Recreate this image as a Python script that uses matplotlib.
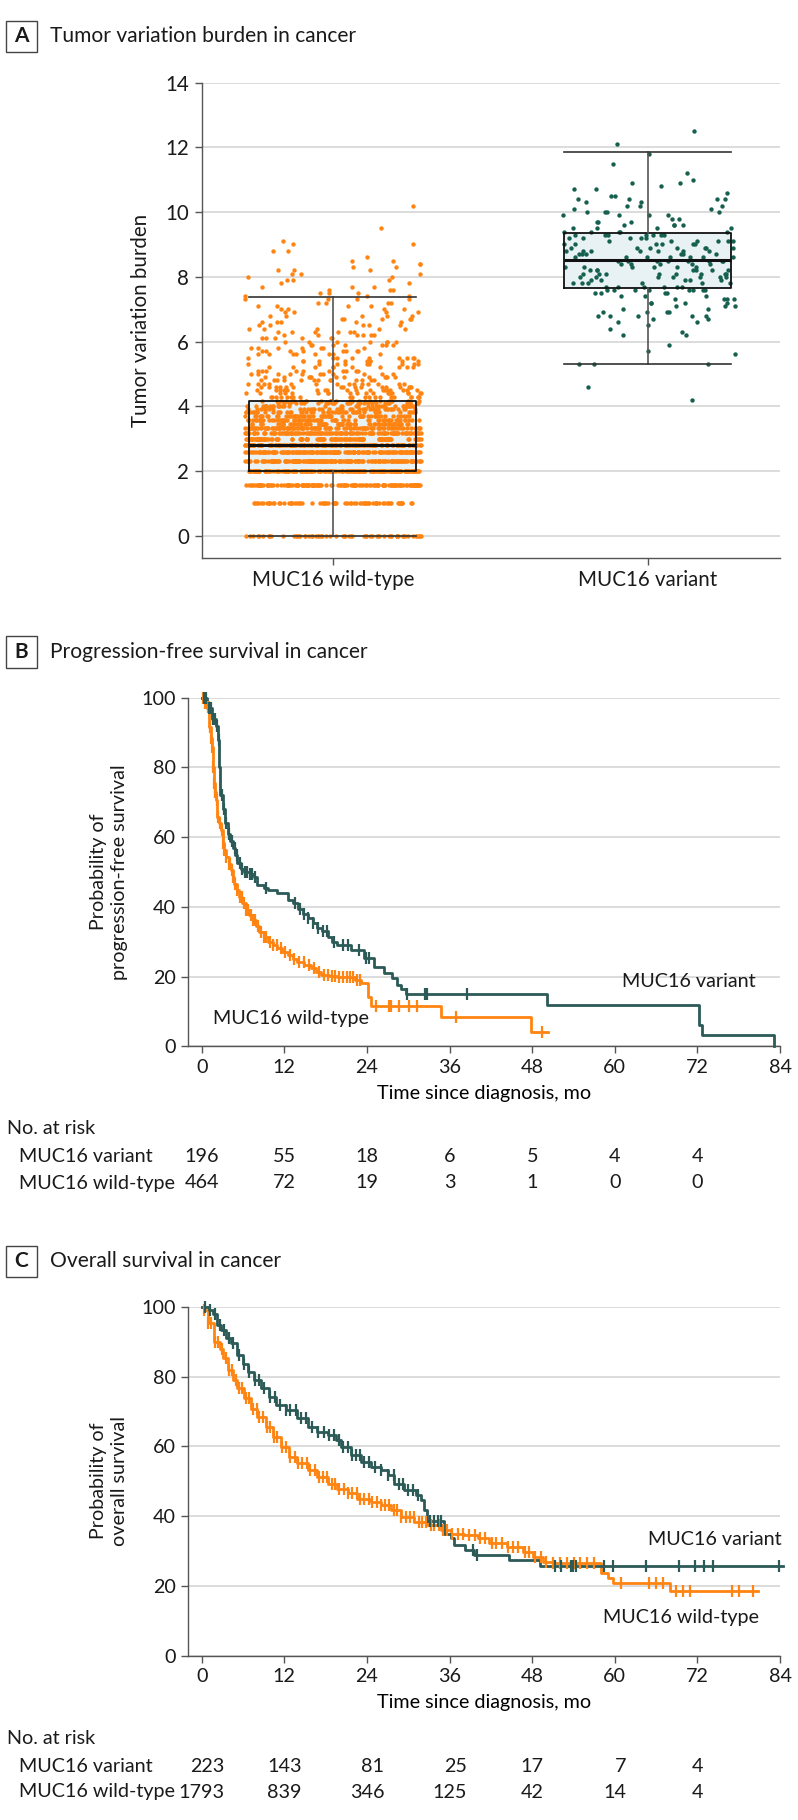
import numpy as np
import matplotlib
matplotlib.use("Agg")
import matplotlib.pyplot as plt
from matplotlib.patches import Rectangle
from matplotlib import transforms

plt.rcParams['font.family'] = ['Lato', 'DejaVu Sans']
plt.rcParams['font.size'] = 14.5
plt.rcParams['text.color'] = '#1a1a1a'
plt.rcParams['xtick.color'] = '#555555'
plt.rcParams['ytick.color'] = '#555555'
plt.rcParams['xtick.labelcolor'] = '#1a1a1a'
plt.rcParams['ytick.labelcolor'] = '#1a1a1a'

ORANGE = '#ff8412'
TEAL_DOT = '#15604f'
TEAL = '#2b5a57'

# ---------------- panel A data ----------------
groups = ['MUC16 wild-type', 'MUC16 variant']
box_q1 = [2.0, 7.66]
box_med = [2.80, 8.52]
box_q3 = [4.17, 9.37]
box_lo = [0.0, 5.30]
box_hi = [7.38, 11.85]

wt_levels = [0, 1.0, 1.58, 2.0, 2.32, 2.58, 2.81, 3.0, 3.17, 3.32, 3.46, 3.58, 3.70,
             3.81, 3.91, 4.0, 4.09, 4.17, 4.3, 4.4, 4.5, 4.6, 4.7, 4.8, 4.9, 5.0,
             5.1, 5.2, 5.3, 5.4, 5.5, 5.6, 5.7, 5.8, 5.9, 6.0, 6.1, 6.2, 6.3, 6.4,
             6.5, 6.6, 6.7, 6.8, 6.9, 7.0, 7.1, 7.2, 7.3, 7.4, 7.5, 7.6, 7.7, 7.8,
             7.9, 8.0, 8.1, 8.2, 8.3, 8.4, 8.5, 8.6, 8.8, 9.0, 9.1, 9.5, 10.2]
wt_counts = [60, 70, 130, 160, 150, 140, 130, 115, 110, 95, 80, 65, 55,
             45, 40, 35, 30, 28, 22, 20, 18, 16, 14, 13, 12, 11,
             10, 10, 9, 9, 9, 8, 8, 7, 7, 7, 6, 6, 6, 5,
             5, 5, 5, 5, 4, 4, 4, 4, 4, 3, 3, 3, 3, 2,
             3, 2, 3, 3, 2, 2, 2, 1, 2, 2, 1, 1, 1]

var_levels = [4.2, 4.6, 5.3, 5.6, 5.7, 5.9, 6.2, 6.3, 6.4, 6.5, 6.6, 6.7, 6.8, 6.9,
              7.0, 7.1, 7.2, 7.3, 7.4, 7.5, 7.6, 7.7, 7.8, 7.9, 8.0, 8.1, 8.2, 8.3,
              8.4, 8.5, 8.6, 8.7, 8.8, 8.9, 9.0, 9.1, 9.2, 9.3, 9.4, 9.5, 9.6, 9.7,
              9.8, 9.9, 10.0, 10.1, 10.2, 10.3, 10.4, 10.5, 10.6, 10.7, 10.8, 10.9,
              11.0, 11.2, 11.5, 11.8, 12.1, 12.5]
var_counts = [1, 1, 3, 1, 1, 1, 2, 1, 1, 1, 2, 2, 5, 4,
              2, 3, 4, 4, 3, 4, 8, 6, 6, 5, 7, 8, 7, 6,
              5, 8, 7, 6, 7, 7, 6, 6, 5, 7, 5, 4, 4, 3,
              2, 4, 4, 2, 3, 2, 4, 2, 1, 2, 1, 2,
              1, 1, 1, 1, 1, 1]

# ---------------- panel B data (progression-free survival) ----------------
pfs_var_t = [0, 0.8, 1.5, 2.1, 2.4, 2.56, 2.7, 3.05, 3.4, 3.77, 4.1, 4.5, 4.9, 5.2,
             5.7, 6.2, 7.0, 7.6, 8.1, 9.0, 9.6, 11.0, 12.5, 13.3, 14.0, 14.7, 15.4,
             16.1, 16.8, 17.5, 18.3, 19.0, 19.7, 21.7, 23.6, 25.1, 26.5, 27.6, 28.3,
             28.9, 29.7, 50.1, 72.3, 72.6, 83.1]
pfs_var_s = [100, 97, 94, 92, 88, 80, 72, 68, 64, 61, 59, 57, 55, 52.5,
             51, 50, 49.3, 48.6, 46.3, 45.5, 44.8, 43.9, 42, 41, 39.5, 38, 36.8,
             35.5, 34, 33, 31.5, 30, 29, 27.6, 25.3, 22.9, 21, 19.5, 17.5,
             16.5, 15, 11.9, 6, 3.3, 0]
pfs_var_cens = [0.4, 0.7, 1.0, 1.3, 1.6, 1.9, 2.2, 2.5, 2.9, 3.3, 3.6, 4.0, 4.4, 4.8,
                5.1, 5.5, 5.9, 6.3, 6.6, 7.0, 7.3, 7.8, 9.3, 13.6, 14.3, 14.8, 15.5,
                16.2, 16.9, 17.6, 18.2, 19.2, 20.6, 21.2, 22.8, 23.8, 24.3, 29.8,
                32.4, 32.8, 38.6]

pfs_wt_t = [0, 0.5, 0.87, 1.1, 1.3, 1.45, 1.6, 1.74, 1.9, 2.1, 2.3, 2.55, 2.8, 3.05,
            3.3, 3.5, 3.9, 4.26, 4.5, 4.74, 5.1, 5.47, 5.9, 6.43, 6.9, 7.4, 7.9,
            8.37, 9.0, 9.58, 10.3, 11.0, 11.7, 12.5, 13.2, 13.9, 14.9, 15.9, 16.6,
            17.3, 18.5, 19.7, 22.2, 23.1, 24.1, 24.6, 34.7, 47.9, 50.3]
pfs_wt_s = [100, 98.5, 97.3, 91.6, 88.5, 85.9, 80, 75.4, 73, 70.6, 65.8, 64, 62, 58.2,
            56.3, 54.4, 52.4, 50.5, 48.6, 46.7, 44.8, 42.9, 41, 39.1, 37.6, 36.2, 34.5,
            32.9, 31.4, 30, 29, 28.1, 27.1, 26.2, 25.2, 24.3, 23.3, 22.4, 21.4,
            20.5, 20.1, 19.8, 19.0, 18.1, 14.3, 11.5, 8.5, 4.2, 4.2]
pfs_wt_cens = [0.2, 0.5, 0.7, 0.9, 1.0, 1.2, 1.3, 1.5, 1.6, 1.8, 1.9, 2.0, 2.2, 2.4,
               2.6, 2.9, 3.1, 3.3, 3.6, 3.9, 4.1, 4.4, 4.6, 4.9, 5.2, 5.5, 5.8, 6.1,
               6.5, 6.8, 7.1, 7.5, 7.8, 8.2, 8.6, 9.0, 9.4, 9.9, 10.4, 10.9, 11.5,
               12.1, 12.8, 13.4, 14.1, 14.8, 15.6, 16.3, 17.1, 17.8, 18.4, 19.0,
               19.4, 19.9, 20.5, 21.1, 21.6, 22.0, 22.5, 23.0, 25.3, 27.2, 27.5,
               28.7, 30.1, 31.3, 36.9, 49.5]
pfs_risk_var = [196, 55, 18, 6, 5, 4, 4]
pfs_risk_wt = [464, 72, 19, 3, 1, 0, 0]

# ---------------- panel C data (overall survival) ----------------
os_var_t = [0, 1.0, 1.6, 2.3, 2.8, 3.5, 4.3, 5.2, 6.0, 6.7, 7.6, 8.6, 9.8, 10.8, 12.2,
            13.9, 15.4, 16.8, 18.3, 19.5, 20.2, 21.7, 23.1, 24.6, 26.0, 27.0, 28.0,
            29.4, 31.1, 31.8, 32.3, 32.8, 35.2, 36.2, 36.7, 38.2, 39.6, 44.7, 49.1, 84.5]
os_var_s = [100, 99, 98, 94.7, 93.3, 90.9, 89.5, 86.1, 83.7, 81.4, 79, 76.6, 74.2, 71.8, 70.4,
            68, 65.6, 64.1, 63.2, 61.8, 59.8, 57.5, 55.5, 54.1, 53.2, 51.7, 49.3,
            47.4, 46, 44.6, 41.7, 38.6, 35, 33.6, 31.6, 30.3, 28.8, 27.4, 25.8, 25.8]
os_var_cens = [0.5, 1.2, 1.9, 2.6, 3.2, 3.9, 4.6, 5.4, 6.1, 6.9, 7.7, 8.4, 9.1, 9.9,
               10.6, 11.4, 12.2, 12.9, 13.7, 14.5, 15.2, 16.0, 16.9, 17.7, 18.5, 19.2,
               19.9, 20.6, 21.2, 21.9, 22.4, 23.0, 23.6, 24.3, 25.2, 26.1, 27.0, 27.9,
               28.6, 29.3, 30.0, 30.7, 31.4, 33.2, 33.8, 34.3, 34.8, 39.4, 40.0, 51.3,
               52.2, 53.7, 54.0, 54.4, 58.5, 59.7, 64.6, 69.4, 71.6, 73.0, 74.2, 83.9]

os_wt_t = [0, 0.3, 0.87, 1.8, 2.6, 3.05, 3.8, 4.5, 5.2, 6.2, 7.2, 8.1, 9.3, 10.3, 11.5,
           12.7, 13.9, 15.4, 16.8, 18.3, 19.7, 21.2, 22.6, 24.6, 26.0, 27.5, 28.9,
           30.9, 32.8, 34.7, 36.2, 38.1, 40.1, 41.8, 44.3, 46.7, 48.1, 49.6, 51.0,
           58.0, 59.0, 59.7, 68.0, 80.8]
os_wt_s = [100, 99, 95.2, 90, 88, 85.2, 81.8, 79, 76.6, 73.7, 70.8, 68.5, 65.6, 62.7, 59.8,
           57, 55.1, 53.2, 51.2, 49.3, 47.9, 46.5, 45, 44.1, 43.1, 41.7, 39.8,
           38.3, 37.4, 35.9, 35, 34.5, 33.6, 32.2, 31.2, 29.8, 28.4, 26.9, 26.5,
           23.6, 22.2, 20.8, 18.4, 18.4]
os_wt_cens = [0.3, 0.9, 1.4, 2.0, 2.4, 2.9, 3.5, 3.9, 4.4, 5.0, 5.4, 5.9, 6.5, 6.9, 7.4,
              8.0, 8.4, 8.9, 9.5, 9.9, 10.5, 11.0, 11.7, 12.2, 12.8, 13.5, 14.0, 14.6,
              15.3, 15.8, 16.4, 17.1, 17.6, 18.2, 18.9, 19.4, 20.0, 20.7, 21.2, 21.8,
              22.5, 23.0, 23.6, 24.3, 24.8, 25.4, 26.1, 26.6, 27.2, 27.9, 28.4, 29.0,
              29.7, 30.2, 30.8, 31.5, 32.0, 32.6, 33.3, 33.8, 34.4, 35.1, 35.6, 36.4,
              37.3, 38.0, 38.8, 39.7, 40.4, 41.2, 42.1, 42.8, 43.6, 44.5, 45.2, 46.0,
              46.9, 47.6, 48.4, 49.3, 50.0, 51.1, 52.0, 53.0, 54.1, 55.0, 56.0, 57.0,
              60.9, 65.0, 66.0, 67.0, 68.9, 69.9, 70.9, 77.1, 78.1, 80.1]
os_risk_var = [223, 143, 81, 25, 17, 7, 4]
os_risk_wt = [1793, 839, 346, 125, 42, 14, 4]

months = [0, 12, 24, 36, 48, 60, 72, 84]

# ---------------- figure ----------------
W, H = 798, 1820
fig = plt.figure(figsize=(W / 100, H / 100), dpi=100)
FS = 14.2


def fx(x):
    return x / W


def fy(y):
    return 1 - y / H


def panel_title(letter, text, yc):
    fig.patches.append(Rectangle((fx(6), fy(yc + 15.5)), 31 / W, 31 / H,
                                 transform=fig.transFigure, fill=False,
                                 edgecolor='#444444', lw=1.0))
    fig.text(fx(21.5), fy(yc), letter, ha='center', va='center',
             fontsize=15, fontweight='bold')
    fig.text(fx(49.5), fy(yc), text, ha='left', va='center', fontsize=15.1)


def style_axes(ax, labelsize=FS):
    for side in ['top', 'right']:
        ax.spines[side].set_visible(False)
    for side in ['left', 'bottom']:
        ax.spines[side].set_color('#555555')
        ax.spines[side].set_linewidth(1.0)
    ax.yaxis.grid(True, color='#d9d9d9', lw=1.3)
    ax.set_axisbelow(True)
    ax.tick_params(length=5, width=1.0, pad=4, labelsize=labelsize)


# ---------------- panel A ----------------
panel_title('A', 'Tumor variation burden in cancer', 36.5)
axA = fig.add_axes([fx(201.7), fy(557.7), (780 - 201.7) / W, (557.7 - 82.7) / H])
style_axes(axA, 14.8)
axA.set_xlim(-0.416, 1.419)
axA.set_ylim(-0.68, 14)
axA.set_yticks(range(0, 15, 2))
axA.set_xticks([0, 1])
axA.set_xticklabels(groups)

bw = 0.53
axA.bar([0, 1], np.array(box_q3) - np.array(box_q1), bottom=box_q1, width=bw,
        color='#e8f2f5', zorder=1)

# deterministic horizontal spread of the points inside each strip
golden = 0.6180339887
half = 0.28
k = 0
for pos, levels, counts, col in [(0, wt_levels, wt_counts, ORANGE),
                                 (1, var_levels, var_counts, TEAL_DOT)]:
    xs, ys = [], []
    for v, c in zip(levels, counts):
        for _ in range(c):
            k += 1
            u = (k * k * 0.5 * golden + k * 0.1234) % 1
            xs.append(pos + (u - 0.5) * 2 * half)
            ys.append(v)
    axA.scatter(xs, ys, s=10, color=col, linewidths=0, zorder=2)

stats = [dict(med=box_med[i], q1=box_q1[i], q3=box_q3[i], whislo=box_lo[i],
              whishi=box_hi[i], fliers=[]) for i in range(2)]
axA.bxp(stats, positions=[0, 1], widths=bw, capwidths=bw, showfliers=False,
        manage_ticks=False,
        boxprops=dict(color='#111111', lw=1.3),
        medianprops=dict(color='#111111', lw=2.2),
        whiskerprops=dict(color='#555555', lw=1.2),
        capprops=dict(color='#333333', lw=1.2), zorder=3)
fig.text(fx(140.7), fy(320), 'Tumor variation burden', rotation=90,
         ha='center', va='center', fontsize=14.8)


# ---------------- KM panels ----------------
def km(ax, t, s, cens, color):
    t = np.asarray(t)
    s = np.asarray(s)
    ax.step(t, s, where='post', color=color, lw=2.0, zorder=3, clip_on=False)
    idx = np.searchsorted(t, cens, side='right') - 1
    ax.plot(cens, s[idx], ls='none', marker='|', ms=8, mew=1.6,
            color=color, zorder=4, clip_on=False)


def risk_table(ax, y_head, y1, y2, r_var, r_wt):
    fig.text(fx(7), fy(y_head), 'No. at risk', ha='left', va='center', fontsize=FS)
    fig.text(fx(19.4), fy(y1), 'MUC16 variant', ha='left', va='center', fontsize=FS)
    fig.text(fx(19.4), fy(y2), 'MUC16 wild-type', ha='left', va='center', fontsize=FS)
    trans1 = transforms.blended_transform_factory(ax.transData, fig.transFigure)
    renderer = fig.canvas.get_renderer()
    for m, a, b in zip(months, r_var, r_wt):
        ta = ax.text(m, fy(y1), str(a), ha='center', va='center', fontsize=FS,
                     transform=trans1, clip_on=False)
        tb = ax.text(m, fy(y2), str(b), ha='center', va='center', fontsize=FS,
                     transform=trans1, clip_on=False)
        right = max(ta.get_window_extent(renderer).x1, tb.get_window_extent(renderer).x1)
        xr = ax.transData.inverted().transform((right, 0))[0]
        for tt in (ta, tb):
            tt.set_ha('right')
            tt.set_x(xr)


def km_axes(y_top, y_bot):
    ax = fig.add_axes([fx(188.3), fy(y_bot), (780 - 188.3) / W, (y_bot - y_top) / H])
    style_axes(ax)
    ax.set_xlim(-1.94, 84)
    ax.set_ylim(0, 100)
    ax.set_xticks(months)
    ax.set_yticks(range(0, 101, 20))
    ax.set_xlabel('Time since diagnosis, mo', fontsize=FS, labelpad=6.5)
    return ax


panel_title('B', 'Progression-free survival in cancer', 652)
axB = km_axes(697.7, 1046.4)
km(axB, pfs_wt_t, pfs_wt_s, pfs_wt_cens, ORANGE)
km(axB, pfs_var_t, pfs_var_s, pfs_var_cens, TEAL)
axB.text(80.4, 18.6, 'MUC16 variant', ha='right', va='center', fontsize=FS)
axB.text(1.64, 7.9, 'MUC16 wild-type', ha='left', va='center', fontsize=FS)
fig.text(fx(109), fy(872), 'Probability of\nprogression-free survival', rotation=90,
         ha='center', va='center', multialignment='center', fontsize=FS,
         linespacing=1.3)
risk_table(axB, 1129, 1157, 1183, pfs_risk_var, pfs_risk_wt)

panel_title('C', 'Overall survival in cancer', 1261)
axC = km_axes(1306.7, 1655.7)
km(axC, os_wt_t, os_wt_s, os_wt_cens, ORANGE)
km(axC, os_var_t, os_var_s, os_var_cens, TEAL)
axC.text(84.2, 33.2, 'MUC16 variant', ha='right', va='center', fontsize=FS)
axC.text(80.9, 11.0, 'MUC16 wild-type', ha='right', va='center', fontsize=FS)
fig.text(fx(109), fy(1481), 'Probability of\noverall survival', rotation=90,
         ha='center', va='center', multialignment='center', fontsize=FS,
         linespacing=1.3)
risk_table(axC, 1738, 1766, 1792, os_risk_var, os_risk_wt)

fig.savefig('out.png', dpi=100)
